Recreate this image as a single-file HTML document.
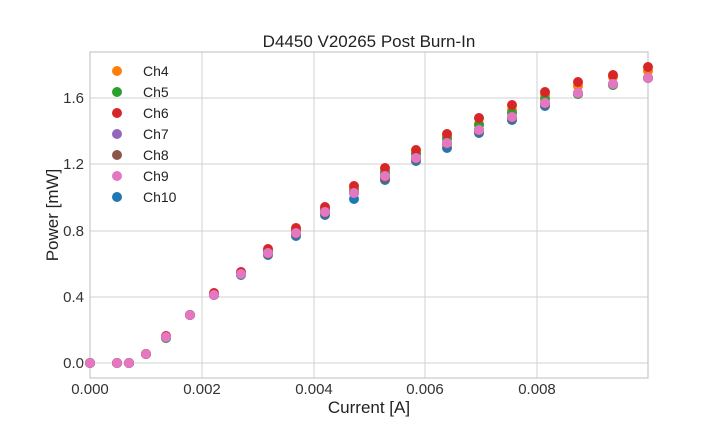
<!DOCTYPE html>
<html><head><meta charset="utf-8"><style>body{margin:0;background:#fff}svg{display:block;font-family:"Liberation Sans",sans-serif}</style></head>
<body>
<svg id="s" width="720" height="432" xmlns="http://www.w3.org/2000/svg">
<g stroke="#d0d0d0" stroke-width="1">
<line x1="202" y1="52" x2="202" y2="378"/><line x1="314" y1="52" x2="314" y2="378"/><line x1="425" y1="52" x2="425" y2="378"/><line x1="537" y1="52" x2="537" y2="378"/>
<line x1="90" y1="363" x2="648" y2="363"/><line x1="90" y1="297" x2="648" y2="297"/><line x1="90" y1="231" x2="648" y2="231"/><line x1="90" y1="164" x2="648" y2="164"/><line x1="90" y1="98" x2="648" y2="98"/>
</g>
<rect x="90" y="52" width="558" height="326" fill="none" stroke="#c8c8c8" stroke-width="1.2"/>
<g font-size="15" fill="#333" text-anchor="end">
<text x="84" y="368">0.0</text><text x="84" y="302">0.4</text><text x="84" y="236">0.8</text><text x="84" y="169">1.2</text><text x="84" y="103">1.6</text>
</g>
<g font-size="15" fill="#333" text-anchor="middle">
<text x="90" y="394">0.000</text><text x="202" y="394">0.002</text><text x="314" y="394">0.004</text><text x="425" y="394">0.006</text><text x="537" y="394">0.008</text>
</g>
<text x="369" y="47" font-size="17" fill="#222" text-anchor="middle">D4450 V20265 Post Burn-In</text>
<text x="369" y="413" font-size="17" fill="#222" text-anchor="middle">Current [A]</text>
<text transform="translate(58,215) rotate(-90)" font-size="17" fill="#222" text-anchor="middle">Power [mW]</text>
<g id="pts"></g>
<g font-size="14" fill="#222">
<circle cx="117" cy="71" r="5" fill="#ff7f0e"/><text x="143" y="76">Ch4</text>
<circle cx="117" cy="92" r="5" fill="#2ca02c"/><text x="143" y="97">Ch5</text>
<circle cx="117" cy="113" r="5" fill="#d62728"/><text x="143" y="118">Ch6</text>
<circle cx="117" cy="134" r="5" fill="#9467bd"/><text x="143" y="139">Ch7</text>
<circle cx="117" cy="155" r="5" fill="#8c564b"/><text x="143" y="160">Ch8</text>
<circle cx="117" cy="176" r="5" fill="#e377c2"/><text x="143" y="181">Ch9</text>
<circle cx="117" cy="197" r="5" fill="#1f77b4"/><text x="143" y="202">Ch10</text>
</g>
</svg>
<script>
var xs=[90,117,129,146,166,190,214,241,268,296,325,354,385,416,447,479,512,545,578,613,648];
var red=[363,363,363,354,336,315,293,272,249,228,207,186,168,150,134,118,105,92,82,75,67];
var pink=[363,363,363,354,337,315,295,274,253,233,212,193,176,158,143,130,117,103,93,84,78];
var series=[["#1f77b4",[0,0,0,0,1,0,0,1,2,3,3,6,4,3,5,3,3,3,1,1,0]],["#ff7f0e",[0,0,0,0,0,0,-1,-1,-2,-3,-3,-4,-5,-5,-6,-6,-7,-8,-7,-7,-7]],["#2ca02c",[0,0,0,0,1,0,0,-1,-1,-2,-2,-2,-3,-4,-4,-5,-4,-4,1,1,0]],["#8c564b",[0,0,0,0,0,0,0,0,1,1,1,0,2,1,1,1,1,1,0,0,0]],["#9467bd",[0,0,0,0,0,0,0,0,0,0,-1,0,0,0,0,0,0,0,0,0,0]],["#d62728",null],["#e377c2",[0,0,0,0,0,0,0,0,0,0,0,0,0,0,0,0,0,0,0,0,0]]];
var g=document.getElementById("pts"),h="";
series.forEach(function(s){for(var i=0;i<xs.length;i++){var y=s[1]?pink[i]+s[1][i]:red[i];h+='<circle cx="'+xs[i]+'" cy="'+y+'" r="5" fill="'+s[0]+'"/>';}});
g.innerHTML=h;
</script>
</body></html>
